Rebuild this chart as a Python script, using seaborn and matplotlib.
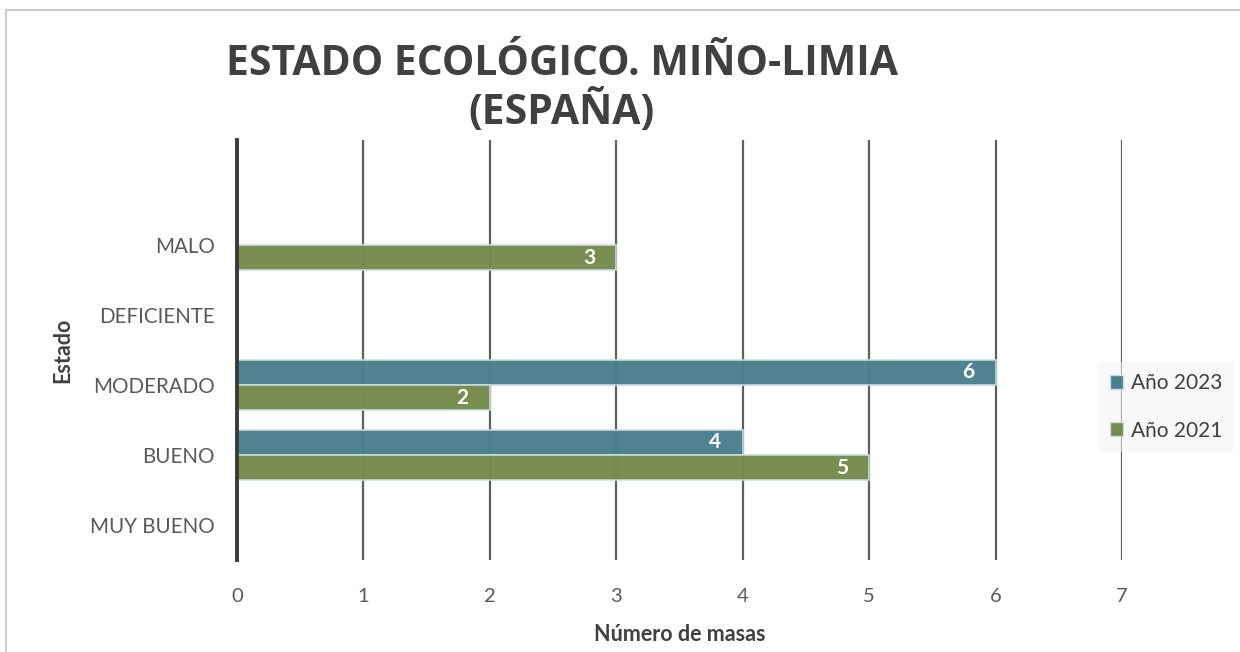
import matplotlib
matplotlib.use("Agg")
import matplotlib.pyplot as plt
import seaborn as sns
import pandas as pd
from matplotlib.lines import Line2D
from matplotlib.patches import Patch

categories = [" ", "MALO", "DEFICIENTE", "MODERADO", "BUENO", "MUY BUENO"]
series_names = ["Año 2023", "Año 2021"]
values_2023 = {"MODERADO": 6, "BUENO": 4}
values_2021 = {"MALO": 3, "MODERADO": 2, "BUENO": 5}
x_ticks = [0, 1, 2, 3, 4, 5, 6, 7]

rows = []
for c, v in values_2023.items():
    rows.append({"Estado": c, "Serie": "Año 2023", "Valor": v})
for c, v in values_2021.items():
    rows.append({"Estado": c, "Serie": "Año 2021", "Valor": v})
df = pd.DataFrame(rows)

sns.set_theme(style="white")
plt.rcParams['font.family'] = ['Lato', 'DejaVu Sans']

colors = {"Año 2023": "#4A7F8E", "Año 2021": "#778A4C"}

fig = plt.figure(figsize=(12.4, 6.52), dpi=100)
ax = fig.add_axes([0.1911, 0.1411, 0.7137, 0.6442])

sns.barplot(data=df, y="Estado", x="Valor", hue="Serie", order=categories,
            hue_order=series_names, palette=colors, orient="h", width=0.72,
            gap=0, ax=ax, legend=False, saturation=1, alpha=0.97,
            edgecolor="#C9DCE0", linewidth=1.2, zorder=3)

ax.set_xlim(0, 7)
ax.set_ylim(5.5, -0.5)
ax.set_xticks(x_ticks)
ax.set_xticklabels([str(t) for t in x_ticks])
for t in x_ticks[1:]:
    ax.axvline(t, color="#5f5f5f", lw=1.6, zorder=1)
ax.grid(False)
for s in ["top", "right", "bottom"]:
    ax.spines[s].set_visible(False)
ax.spines["left"].set_color("#3a3a3a")
ax.spines["left"].set_linewidth(2.8)
ax.spines["left"].set_zorder(5)

ax.tick_params(axis="x", length=0, pad=20, labelsize=14.5, labelcolor="#595959")
ax.tick_params(axis="y", length=0, pad=16, labelsize=14.8, labelcolor="#595959")

ax.set_xlabel("Número de masas", fontsize=15.5, fontweight="bold", color="#404040", labelpad=14)
ax.set_ylabel("Estado", fontsize=15.5, fontweight="bold", color="#404040", labelpad=10)
ax.yaxis.set_label_coords(-0.185, 0.5)

for cont in ax.containers:
    labels = [f"{int(v)}" if v > 0 else "" for v in cont.datavalues]
    ax.bar_label(cont, labels=labels, label_type="edge", padding=-24,
                 color="white", fontsize=15, fontweight="bold", zorder=6)

handles = [Patch(facecolor=colors[n], edgecolor="#C9DCE0", label=n) for n in series_names]
leg = fig.legend(handles=handles, loc="center left", bbox_to_anchor=(1088/1240, 1-407/652),
                 frameon=True, fontsize=15, labelspacing=1.3, handlelength=0.65,
                 handleheight=0.65, handletextpad=0.35, borderpad=0.55)
leg.get_frame().set_facecolor("#F4F4F4")
leg.get_frame().set_edgecolor("none")
leg.get_frame().set_alpha(0.55)
for t in leg.get_texts():
    t.set_color("#404040")

fig.text(0.453, 1-89/652, "ESTADO ECOLÓGICO. MIÑO-LIMIA\n(ESPAÑA)", ha="center", va="center",
         fontsize=29.4, fontweight="bold", color="#404040", linespacing=1.15,
         family=["Open Sans", "DejaVu Sans"])

fig.add_artist(Line2D([6/1240, 1.0], [1-10/652, 1-10/652], color="#CCCCCC", lw=1.5,
                      transform=fig.transFigure))
fig.add_artist(Line2D([6/1240, 6/1240], [0, 1-10/652], color="#CCCCCC", lw=1.5,
                      transform=fig.transFigure))

fig.savefig("out.png", dpi=100)
